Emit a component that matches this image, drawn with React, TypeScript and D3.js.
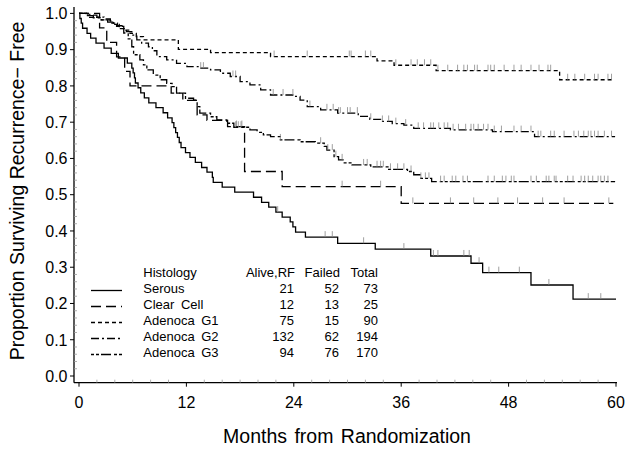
import React from 'react';
import * as d3 from 'd3';

const W = 629, H = 452;

// ---- data (months, survival proportion) ----
const serousTimes = [0, 0.1, 0.25, 0.4, 0.9, 1.3, 1.9, 2.8, 3.6, 4.4, 5.4, 5.9, 6.05, 6.2, 6.3, 6.6, 6.9, 7.3, 7.8, 8.6, 9.4, 9.9, 10.4, 10.6, 10.8, 11.0, 11.2, 11.4, 11.9, 12.4, 13.0, 13.7, 14.3, 14.9, 15.0, 16.0, 17.4, 19.5, 20.4, 21.2, 22.0, 22.7, 23.6, 23.9, 24.2, 25.3, 28.9, 33.1, 39.3, 43.8, 45.1, 50.5, 55.2];
const serousSurv = [1, .986, .973, .959, .945, .932, .918, .904, .890, .877, .863, .849, .836, .822, .808, .795, .781, .767, .753, .740, .726, .712, .699, .685, .671, .658, .644, .630, .616, .603, .589, .575, .562, .548, .534, .521, .507, .493, .479, .466, .452, .438, .425, .411, .397, .383, .366, .350, .331, .311, .285, .251, .212];
const serousCensor = [22.2, 27.5, 28.3, 31.8, 36.3, 39.6, 40.1, 43.0, 43.6, 44.7, 45.8, 46.9, 49.2, 52.5, 56.9, 58.3];

const clearTimes = [0, 2.3, 3.1, 4.2, 5.1, 5.7, 10.3, 11.6, 13.2, 14.3, 16.6, 18.5, 22.7, 36.0];
const clearSurv = [1, .96, .92, .88, .84, .80, .78, .76, .72, .705, .688, .564, .522, .476];
const clearCensor = [17.6, 18.2, 29.4, 33.7, 37.3, 41.5, 44.1, 46.8, 49.0, 51.8, 54.2, 59.2];

const g1Times = [0, 1.0, 2.3, 3.5, 4.2, 5.0, 5.7, 6.4, 7.2, 11.1, 14.7, 21.4, 33.3, 35.2, 39.9, 53.7];
const g1Surv = [1, .989, .982, .973, .964, .954, .945, .936, .927, .901, .892, .881, .869, .857, .842, .817];
const g1Censor = [21.8, 25.5, 30.2, 30.4, 32.0, 32.6, 35.4, 37.1, 37.8, 38.6, 39.3, 40.1, 41.2, 42.3, 43.0, 43.4, 44.2, 44.5, 45.7, 46.0, 46.4, 47.5, 48.6, 49.4, 50.5, 51.4, 52.4, 52.7, 54.6, 55.4, 56.5, 57.6, 58.0, 59.1, 59.5];

const g2Times = [0, 1.2, 2.0, 2.8, 3.5, 3.84, 4.3, 4.8, 5.3, 5.9, 6.46, 7.0, 7.76, 8.2, 8.7, 9.8, 10.9, 12.06, 13.5, 14.7, 15.8, 16.9, 18.0, 19.1, 20.3, 21.4, 24.0, 24.7, 25.5, 27.0, 28.9, 31.2, 32.5, 33.7, 35.0, 36.3, 37.4, 41.5, 46.2, 50.9];
const g2Surv = [1, .995, .99, .985, .979, .973, .966, .958, .95, .94, .927, .918, .908, .897, .881, .872, .862, .853, .849, .844, .835, .826, .812, .803, .789, .775, .771, .761, .743, .734, .725, .716, .708, .702, .696, .692, .683, .679, .674, .66];
const g2Censor = [13.6, 13.9, 17.2, 17.5, 21.7, 22.8, 23.9, 25.8, 27.7, 28.4, 29.0, 29.2, 30.0, 30.3, 31.1, 32.6, 33.9, 34.6, 35.4, 36.5, 37.9, 38.5, 39.3, 39.6, 40.2, 40.8, 41.2, 41.8, 42.4, 43.2, 43.8, 44.1, 44.6, 45.2, 45.7, 46.4, 47.2, 48.6, 49.4, 50.5, 51.3, 51.6, 52.7, 53.1, 54.2, 55.3, 55.8, 56.4, 56.9, 57.2, 57.6, 58.0, 58.7, 59.5];

const g3Times = [0, 0.8, 1.6, 2.5, 3.2, 3.9, 4.5, 5.0, 5.5, 5.9, 6.1, 6.8, 7.2, 7.58, 8.3, 9.07, 9.8, 10.4, 10.9, 11.9, 12.8, 13.2, 13.5, 14.7, 15.4, 16.5, 17.3, 19.1, 19.9, 20.6, 21.4, 22.5, 24.7, 26.4, 27.4, 27.7, 28.5, 29.0, 29.5, 30.5, 32.6, 34.6, 36.7, 37.4, 38.2, 39.4];
const g3Surv = [1, .994, .988, .982, .976, .97, .958, .946, .93, .908, .886, .872, .858, .844, .83, .817, .807, .798, .78, .766, .761, .743, .725, .715, .706, .697, .686, .679, .672, .665, .66, .651, .646, .642, .633, .623, .605, .596, .588, .582, .577, .570, .564, .555, .545, .536];
const g3Censor = [17.5, 17.8, 18.1, 22.5, 27.0, 27.8, 28.3, 28.7, 29.4, 31.8, 32.2, 33.3, 33.7, 34.0, 34.8, 35.6, 36.3, 37.1, 38.2, 38.7, 39.1, 40.4, 40.8, 41.7, 42.1, 42.9, 43.4, 45.7, 46.4, 47.3, 47.7, 48.3, 48.6, 50.5, 51.1, 52.2, 52.5, 53.1, 53.3, 54.6, 55.2, 56.1, 56.5, 56.9, 57.4, 58.0, 58.3, 58.7, 59.1];

const endTimes = [60.0, 59.7, 59.6, 59.9, 59.9];

const histology = ['Serous', 'Clear Cell', 'Adenoca G1', 'Adenoca G2', 'Adenoca G3'];
const aliveRF = [21, 12, 75, 132, 94];
const failed = [52, 13, 15, 62, 76];
const total = [73, 25, 90, 194, 170];

const xTicks = [0, 12, 24, 36, 48, 60];
const yTicks = [0, 0.1, 0.2, 0.3, 0.4, 0.5, 0.6, 0.7, 0.8, 0.9, 1.0];

const dashes = ['', '10,5', '4,3', '8,3,2,3', '3,2,3,2,10,3'];

const series = [
  { t: serousTimes, s: serousSurv, c: serousCensor },
  { t: clearTimes, s: clearSurv, c: clearCensor },
  { t: g1Times, s: g1Surv, c: g1Censor },
  { t: g2Times, s: g2Surv, c: g2Censor },
  { t: g3Times, s: g3Surv, c: g3Censor },
];

const FONT = '"Liberation Sans", Arial, Helvetica, sans-serif';

export default function App() {
  const x = d3.scaleLinear().domain([0, 60]).range([79, 616]);
  const y = d3.scaleLinear().domain([0, 1]).range([376, 13.4]);
  const axisY = 382.7;
  const axisX = 74;

  const line = d3.line<[number, number]>()
    .x(d => x(d[0]))
    .y(d => y(d[1]))
    .curve(d3.curveStepAfter);

  const survAt = (t: number[], s: number[], m: number) => {
    let v = s[0];
    for (let i = 0; i < t.length; i++) if (t[i] <= m) v = s[i];
    return v;
  };

  const minorX = d3.range(0, 61, 2).filter(v => v % 12 !== 0);
  const minorY = d3.range(0, 51, 1).map(v => v / 50).filter((v, i) => i % 5 !== 0);

  return (
    <svg width={W} height={H} style={{ position: 'absolute', left: 0, top: 0, background: '#fff' }} fontFamily={FONT}>
      <rect x={0} y={0} width={W} height={H} fill="#fff" />
      {/* axes */}
      <line x1={axisX} x2={axisX} y1={7} y2={axisY} stroke="#000" strokeWidth={1.3} />
      <line x1={axisX} x2={617} y1={axisY} y2={axisY} stroke="#000" strokeWidth={1.3} />
      {yTicks.map(v => (
        <g key={'yt' + v}>
          <line x1={axisX - 4} x2={axisX} y1={y(v)} y2={y(v)} stroke="#000" strokeWidth={1} />
          <text x={67.5} y={y(v)} dy="0.36em" textAnchor="end" fontSize={16} fill="#000">{v.toFixed(1)}</text>
        </g>
      ))}
      {minorY.map(v => (
        <line key={'ym' + v} x1={axisX} x2={axisX + 3} y1={y(v)} y2={y(v)} stroke="#999" strokeWidth={0.8} />
      ))}
      {xTicks.map(v => (
        <g key={'xt' + v}>
          <line x1={x(v)} x2={x(v)} y1={axisY} y2={axisY + 4} stroke="#000" strokeWidth={1} />
          <text x={x(v)} y={408} textAnchor="middle" fontSize={16} fill="#000">{v}</text>
        </g>
      ))}
      {minorX.map(v => (
        <line key={'xm' + v} x1={x(v)} x2={x(v)} y1={axisY - 3} y2={axisY} stroke="#999" strokeWidth={0.8} />
      ))}
      <text x={347} y={443} textAnchor="middle" fontSize={19.5} style={{ wordSpacing: '2px' }} fill="#000">Months from Randomization</text>
      <text transform="translate(24,191) rotate(-90)" textAnchor="middle" fontSize={19.5} fill="#000">Proportion Surviving Recurrence− Free</text>

      {/* curves */}
      {series.map((sr, i) => {
        const pts: [number, number][] = sr.t.map((t, j) => [t, sr.s[j]] as [number, number]);
        pts.push([endTimes[i], sr.s[sr.s.length - 1]]);
        return (
          <g key={'s' + i}>
            <path d={line(pts) || ''} fill="none" stroke="#000" strokeWidth={1.3} strokeDasharray={dashes[i] || undefined} />
            {sr.c.map((m, k) => {
              const v = survAt(sr.t, sr.s, m);
              return <line key={k} x1={x(m)} x2={x(m)} y1={y(v) - 6} y2={y(v)} stroke="#888" strokeWidth={0.8} />;
            })}
          </g>
        );
      })}

      {/* legend */}
      <g fontSize={13} fill="#000">
        <text x={143.3} y={276.7}>Histology</text>
        <text x={295} y={276.7} textAnchor="end">Alive,RF</text>
        <text x={340} y={276.7} textAnchor="end">Failed</text>
        <text x={378} y={276.7} textAnchor="end">Total</text>
        {histology.map((h, i) => {
          const by = 292.5 + i * 16;
          return (
            <g key={'lg' + i}>
              <line x1={91} x2={122} y1={by - 2} y2={by - 2} stroke="#000" strokeWidth={1.3} strokeDasharray={dashes[i] || undefined} />
              <text x={143.3} y={by} style={{ wordSpacing: '3px' }}>{h}</text>
              <text x={294} y={by} textAnchor="end">{aliveRF[i]}</text>
              <text x={339} y={by} textAnchor="end">{failed[i]}</text>
              <text x={378} y={by} textAnchor="end">{total[i]}</text>
            </g>
          );
        })}
      </g>
    </svg>
  );
}
